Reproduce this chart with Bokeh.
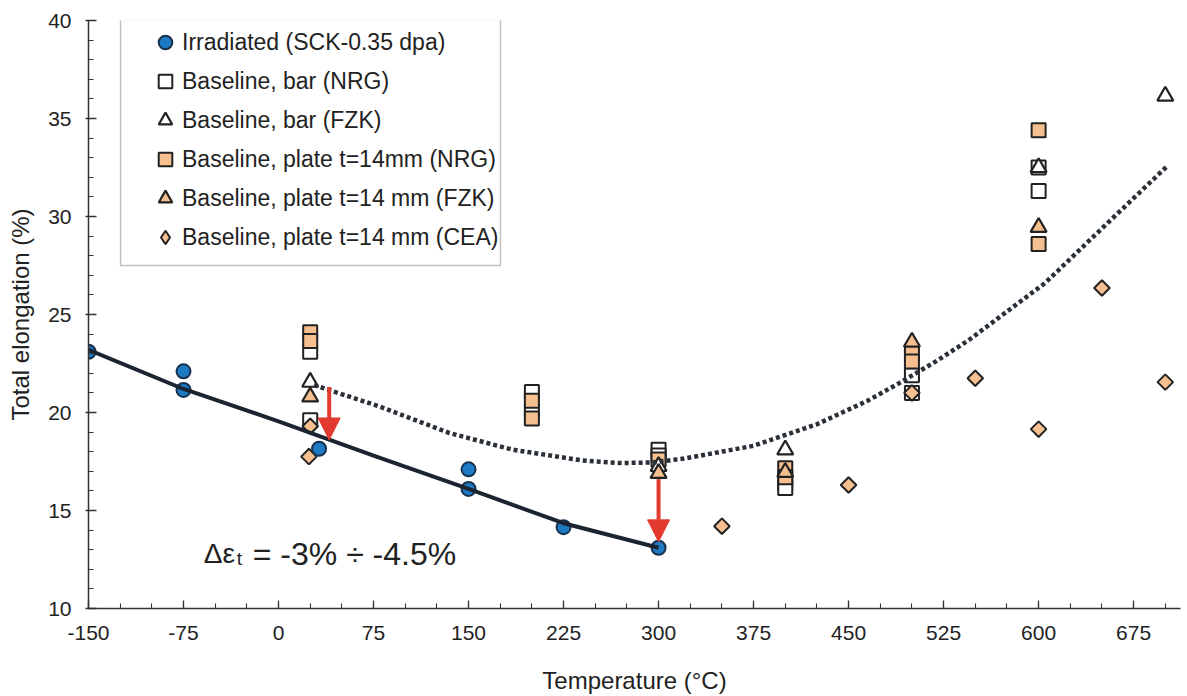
import math
from bokeh.plotting import figure
from bokeh.models import (FixedTicker, Legend, LegendItem, Label, Arrow, NormalHead, BoxAnnotation)
from bokeh.embed import file_html
from bokeh.resources import INLINE

# ---------------- data ----------------
irr_T = [-150, -75, -75, 32, 150, 150, 225, 300]
irr_E = [23.1, 22.1, 21.15, 18.15, 17.1, 16.1, 14.15, 13.1]

nrg_bar_T = [25, 25, 200, 200, 300, 300, 400, 400, 500, 500, 600, 600]
nrg_bar_E = [23.1, 19.6, 21.05, 20.1, 18.1, 17.8, 16.4, 16.15, 21.9, 21.0, 32.5, 31.3]

fzk_bar_T = [25, 300, 400, 600, 700]
fzk_bar_E = [21.55, 17.25, 18.1, 32.5, 36.15]

nrg_pl_T = [25, 25, 200, 200, 300, 400, 400, 500, 500, 600, 600]
nrg_pl_E = [24.1, 23.65, 20.6, 19.7, 17.6, 17.15, 16.7, 23.1, 22.6, 34.4, 28.6]

fzk_pl_T = [25, 300, 400, 500, 600]
fzk_pl_E = [20.8, 16.9, 16.95, 23.6, 29.45]

cea_T = [25, 24, 350, 450, 500, 550, 600, 650, 700]
cea_E = [19.3, 17.75, 14.2, 16.3, 21.0, 21.75, 19.15, 26.35, 21.55]

fit_irr_T = [-150, -75, 0, 75, 150, 225, 300]
fit_irr_E = [23.2, 21.2, 19.55, 17.8, 16.1, 14.35, 13.1]

fit_base_T = [28, 80, 135, 185, 240, 270, 295, 320, 375, 425, 465, 490, 520, 545, 605, 655, 702]
fit_base_E = [21.4, 20.3, 18.95, 18.1, 17.55, 17.42, 17.45, 17.65, 18.3, 19.4, 20.6, 21.5, 22.65, 23.7, 26.6, 29.7, 32.6]

arrow_T = [40, 300]
arrow_from = [21.3, 16.6]
arrow_to = [18.6, 13.4]

x_ticks = [-150, -75, 0, 75, 150, 225, 300, 375, 450, 525, 600, 675]
y_ticks = [10, 15, 20, 25, 30, 35, 40]

legend_labels = [
    "Irradiated (SCK-0.35 dpa)",
    "Baseline, bar (NRG)",
    "Baseline, bar (FZK)",
    "Baseline, plate t=14mm (NRG)",
    "Baseline, plate t=14 mm (FZK)",
    "Baseline, plate t=14 mm (CEA)",
]

# ---------------- styling ----------------
FONT = "'Liberation Sans', Arial, Helvetica, sans-serif"
INK = "#222222"
BLUE = "#1f7ac4"
PEACH = "#f5bf8f"
RED = "#e33a30"

p = figure(width=1187, height=696, x_range=(-150, 712), y_range=(10, 40),
           output_backend="svg", toolbar_location=None,
           min_border_left=88, min_border_right=7, min_border_top=20, min_border_bottom=88)
p.xgrid.visible = False
p.ygrid.visible = False
p.outline_line_color = None
p.background_fill_color = "white"
p.border_fill_color = "white"

x_minor = [v for v in range(-150, 711, 25)]
y_minor = [v for v in range(10, 41)]
p.xaxis.ticker = FixedTicker(ticks=x_ticks, minor_ticks=x_minor)
p.yaxis.ticker = FixedTicker(ticks=y_ticks, minor_ticks=y_minor)
p.xaxis.major_label_overrides = {t: str(t) for t in x_ticks}

for ax in (p.xaxis, p.yaxis):
    ax.axis_line_color = "#333333"
    ax.axis_line_width = 1.5
    ax.major_tick_line_color = "#333333"
    ax.minor_tick_line_color = "#333333"
    ax.major_tick_line_width = 1.3
    ax.minor_tick_line_width = 1.1
    ax.major_label_text_font = FONT
    ax.major_label_text_font_size = "21px"
    ax.major_label_text_color = INK
    ax.axis_label_text_font = FONT
    ax.axis_label_text_font_size = "24px"
    ax.axis_label_text_font_style = "normal"
    ax.axis_label_text_color = INK

p.xaxis.axis_label = "Temperature (°C)"
p.yaxis.axis_label = "Total elongation (%)"
p.xaxis.major_tick_in = 8
p.xaxis.major_tick_out = 0
p.xaxis.minor_tick_in = 5
p.xaxis.minor_tick_out = 0
p.yaxis.major_tick_in = 8
p.yaxis.major_tick_out = 3
p.yaxis.minor_tick_in = 5
p.yaxis.minor_tick_out = 0
p.xaxis.major_label_standoff = 17
p.xaxis.axis_label_standoff = 24
p.yaxis.major_label_standoff = 14
p.yaxis.axis_label_standoff = 11

# ---------------- legend frame (drawn first, under everything) ----------------
p.add_layout(BoxAnnotation(left=-124.7, right=175.2, top=40.05, bottom=27.5,
                           fill_color="white", fill_alpha=1.0,
                           line_color="#333333", line_width=1.5, level="underlay"))

# ---------------- markers ----------------
r_nrg_bar = p.scatter(nrg_bar_T, nrg_bar_E, marker="square", size=14,
                      fill_color="white", line_color=INK, line_width=2)
r_nrg_pl = p.scatter(nrg_pl_T, nrg_pl_E, marker="square", size=14,
                     fill_color=PEACH, line_color=INK, line_width=2)
r_fzk_bar = p.scatter(fzk_bar_T, fzk_bar_E, marker="triangle", size=16,
                      fill_color="white", line_color=INK, line_width=2.2)
r_fzk_pl = p.scatter(fzk_pl_T, fzk_pl_E, marker="triangle", size=16,
                     fill_color=PEACH, line_color=INK, line_width=2.2)
r_cea = p.scatter(cea_T, cea_E, marker="square", size=11, angle=math.pi / 4,
                  fill_color=PEACH, line_color=INK, line_width=2)
r_irr = p.scatter(irr_T, irr_E, marker="circle", size=14,
                  fill_color=BLUE, line_color="#17324f", line_width=2)

# legend proxy for the diamond symbol (no visible point)
r_cea_leg = p.scatter([float("nan")], [float("nan")], marker="diamond", size=14,
                      fill_color=PEACH, line_color=INK, line_width=2)

# ---------------- fit lines ----------------
p.line(fit_irr_T, fit_irr_E, line_color="#1b2430", line_width=4)
p.line(fit_base_T, fit_base_E, line_color="#2a3038", line_width=4.5, line_dash="4 3")

# ---------------- arrows ----------------
for t, a, b in zip(arrow_T, arrow_from, arrow_to):
    p.add_layout(Arrow(x_start=t, y_start=a, x_end=t, y_end=b,
                       line_color=RED, line_width=4,
                       end=NormalHead(size=22, fill_color=RED, line_color=RED, line_width=1)))

# ---------------- annotation text ----------------
p.add_layout(Label(x=-59, y=12.8, text="Δε", text_font=FONT, text_font_size="28px",
                   text_color=INK, text_baseline="alphabetic"))
p.add_layout(Label(x=-59, y=12.8, x_offset=33, y_offset=-5, text="t", text_font=FONT,
                   text_font_size="19px", text_color=INK, text_baseline="alphabetic"))
p.add_layout(Label(x=-59, y=12.8, x_offset=49, text="= -3% ÷ -4.5%", text_font=FONT,
                   text_font_size="32px", text_color=INK, text_baseline="alphabetic"))

# ---------------- legend ----------------
items = [
    LegendItem(label=legend_labels[0], renderers=[r_irr]),
    LegendItem(label=legend_labels[1], renderers=[r_nrg_bar]),
    LegendItem(label=legend_labels[2], renderers=[r_fzk_bar]),
    LegendItem(label=legend_labels[3], renderers=[r_nrg_pl]),
    LegendItem(label=legend_labels[4], renderers=[r_fzk_pl]),
    LegendItem(label=legend_labels[5], renderers=[r_cea_leg]),
]
legend = Legend(items=items, location=(51, 345),
                padding=9, spacing=5, glyph_height=34, glyph_width=34,
                label_standoff=0, label_height=20,
                label_text_font=FONT, label_text_font_size="23px", label_text_color=INK,
                border_line_alpha=0, background_fill_alpha=0)
p.add_layout(legend, "center")

open("out.html", "w").write(file_html(p, INLINE))
